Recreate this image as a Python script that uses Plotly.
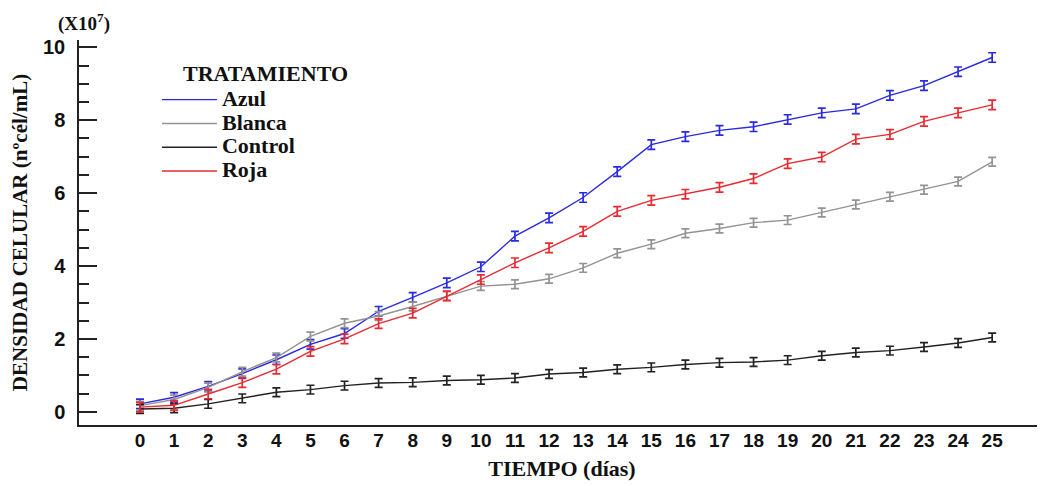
import plotly.graph_objects as go

dias = list(range(26))

azul = [0.22, 0.40, 0.70, 1.05, 1.43, 1.85, 2.15, 2.76, 3.14, 3.54, 3.98, 4.82, 5.32, 5.88, 6.59, 7.33,
        7.55, 7.72, 7.82, 8.02, 8.20, 8.31, 8.68, 8.95, 9.33, 9.72]
blanca = [0.17, 0.34, 0.67, 1.10, 1.49, 2.07, 2.43, 2.63, 2.89, 3.18, 3.45, 3.50, 3.65, 3.95, 4.35, 4.60,
          4.90, 5.03, 5.19, 5.26, 5.47, 5.69, 5.90, 6.09, 6.32, 6.86]
control = [0.08, 0.10, 0.22, 0.37, 0.54, 0.61, 0.72, 0.79, 0.81, 0.86, 0.88, 0.93, 1.04, 1.08, 1.17, 1.22,
           1.30, 1.35, 1.37, 1.42, 1.54, 1.63, 1.68, 1.78, 1.89, 2.04]
roja = [0.13, 0.18, 0.49, 0.80, 1.17, 1.66, 2.00, 2.42, 2.71, 3.18, 3.63, 4.09, 4.50, 4.95, 5.50, 5.80,
        5.97, 6.16, 6.40, 6.81, 6.99, 7.48, 7.61, 7.97, 8.20, 8.42]

err_azul = [0.13] * 26
err_blanca = [0.12] * 26
err_control = [0.12] * 26
err_roja = [0.13] * 26

series = [
    ("Azul", azul, err_azul, "#2a2ae0"),
    ("Blanca", blanca, err_blanca, "#939393"),
    ("Control", control, err_control, "#222222"),
    ("Roja", roja, err_roja, "#e82a30"),
]

x_ticks = [str(d) for d in dias]

fig = go.Figure()
for name, vals, errs, col in series:
    fig.add_trace(go.Scatter(
        x=dias, y=vals, name='<span style="font-size:22px">' + name + '</span>', mode="lines",
        line=dict(color=col, width=1.4),
        error_y=dict(type="data", array=errs, visible=True, color=col, thickness=1.7, width=4),
    ))

serif = "Liberation Serif, Times New Roman, serif"

fig.update_layout(
    width=1037, height=478,
    margin=dict(l=71, r=0, t=32, b=61, autoexpand=False),
    paper_bgcolor="white", plot_bgcolor="white",
    showlegend=True,
    legend=dict(
        x=0.0807, y=0.889, xanchor="left", yanchor="top",
        font=dict(family=serif, size=16, color="#111111", weight="bold"),
        bgcolor="rgba(0,0,0,0)", tracegroupgap=0, itemwidth=55,
    ),
    xaxis=dict(
        range=[-1.79, 26.55], tickmode="array", tickvals=dias, ticktext=x_ticks,
        showgrid=False, zeroline=False, showline=True, linecolor="#222222", linewidth=1.5,
        ticks="", ticklabelstandoff=-3, automargin=False,
        tickfont=dict(family="Liberation Sans Narrow, Arial Narrow, Liberation Sans, Arial", size=19, color="#111111", weight="bold"),
        title=dict(text="<b>TIEMPO (días)</b>", font=dict(family=serif, size=22, color="#111111"), standoff=11),
    ),
    yaxis=dict(
        range=[-0.36, 10.2], tickmode="linear", tick0=0, dtick=2,
        showgrid=False, zeroline=False, showline=True, linecolor="#222222", linewidth=1.5,
        ticks="inside", ticklen=18, tickwidth=1.5, tickcolor="#222222",
        minor=dict(dtick=0.5, ticks="inside", ticklen=10, tickwidth=1.5, tickcolor="#222222"),
        ticklabelstandoff=8, automargin=False,
        tickfont=dict(family="Liberation Sans, Arial", size=20, color="#111111", weight="bold"),
        title=dict(text="<b>DENSIDAD CELULAR (nºcél/mL)</b>", font=dict(family=serif, size=21, color="#111111"), standoff=11),
    ),
    annotations=[
        dict(text="<b>(X10<sup>7</sup>)</b>", xref="paper", yref="paper", x=0.005, y=1.0, yshift=18,
             xanchor="center", yanchor="middle", showarrow=False,
             font=dict(family=serif, size=19, color="#111111")),
        dict(text="<b>TRATAMIENTO</b>", xref="paper", yref="paper", x=0.1056, y=0.912,
             xanchor="left", yanchor="middle", showarrow=False,
             font=dict(family=serif, size=22, color="#111111")),
    ],
)

fig.write_html("out.html")
